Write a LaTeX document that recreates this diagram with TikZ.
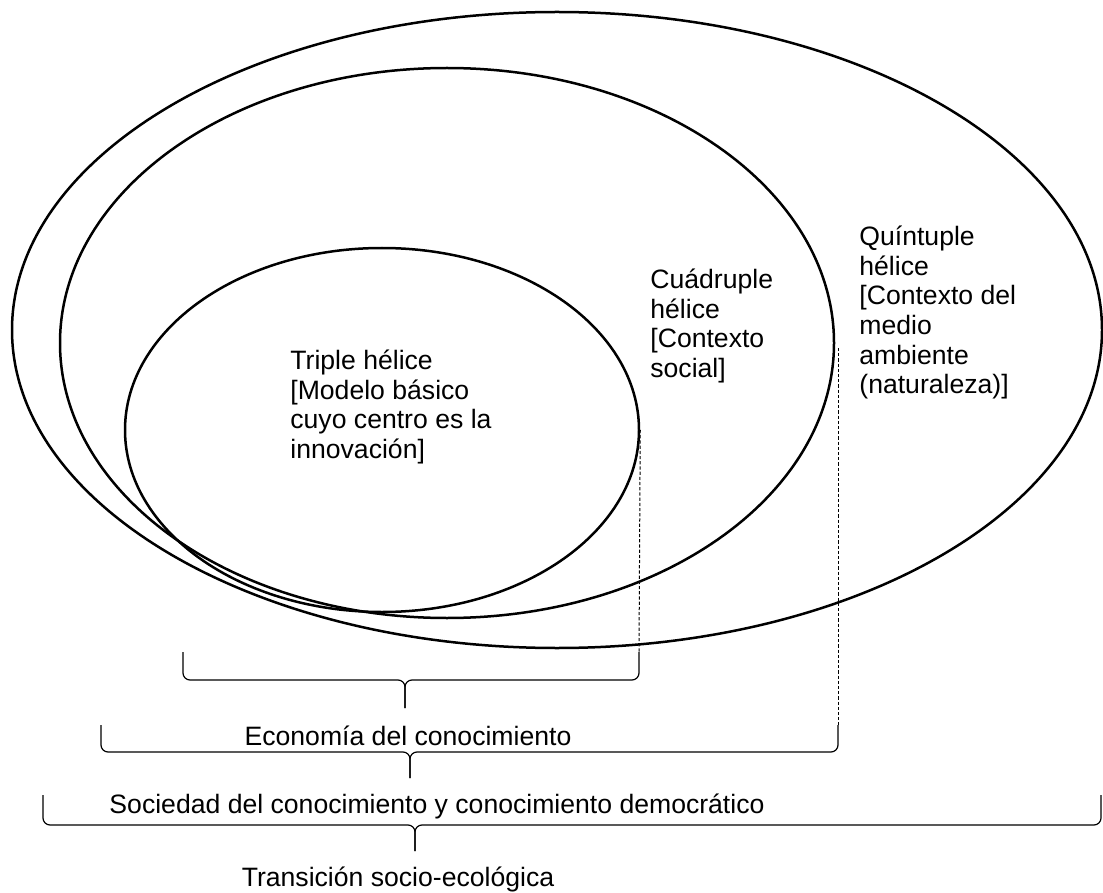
\documentclass[tikz,border=0pt]{standalone}
\usepackage{fontspec}
\setmainfont{Liberation Sans}
\usetikzlibrary{shapes.geometric}
\newcommand\mybrace[6]{%
  \draw[bracestyle] (#1,#4) -- (#1,#5) -- (#3,#5) -- (#3,#6);
  \draw[bracestyle] (#2,#4) -- (#2,#5) -- (#3,#5) -- (#3,#6);}
\begin{document}
\begin{tikzpicture}[x=0.5pt,y=-0.5pt,
  ring/.style={draw, ellipse, line width=1.25pt, inner sep=0pt},
  bracestyle/.style={line width=0.6pt, rounded corners=3.5pt},
  dashline/.style={line width=0.5pt, dash pattern=on 1.6pt off 1pt},
  lbl/.style={font=\fontsize{13.3}{14.85}\selectfont, inner sep=0pt, align=left, anchor=north west},
  blbl/.style={font=\fontsize{13.3}{14.85}\selectfont, inner sep=0pt, anchor=base}]
\useasboundingbox (0,0) rectangle (1103,893);
% ellipses
\node[ring, minimum width=545pt, minimum height=318pt] (outer) at (557,330) {};
\node[ring, minimum width=387pt, minimum height=275pt] (middle) at (447,343) {};
\node[ring, minimum width=257pt, minimum height=182pt] (inner) at (382,430) {};
% labels
\node[lbl] (ttriple) at (290,345) {\rule{0pt}{12pt}Triple hélice\\{[Modelo básico}\\cuyo centro es la\\innovación]};
\node[lbl] (tcuad) at (650,264) {\rule{0pt}{12pt}Cuádruple\\hélice\\{[Contexto}\\social]};
\node[lbl] (tquin) at (859,221) {\rule{0pt}{12pt}Quíntuple\\hélice\\{[Contexto del}\\medio\\ambiente\\(naturaleza)]};
% dashed guides
\coordinate (b1r) at (639,652);
\coordinate (q) at (838,348);
\coordinate (b2r) at (838,725);
\draw[dashline] (inner.east) -- (b1r);
\draw[dashline] (q) -- (b2r);
% braces
\mybrace{183}{639}{405}{652}{680}{708}
\mybrace{101}{838}{410}{725}{752}{778}
\mybrace{43}{1101}{415}{795}{825}{851}
% bottom labels
\node[blbl] (teco) at (408,745) {Economía del conocimiento};
\node[blbl] (tsoc) at (437,813) {Sociedad del conocimiento y conocimiento democrático};
\node[blbl] (ttra) at (398,886) {Transición socio-ecológica};
\end{tikzpicture}
\end{document}
